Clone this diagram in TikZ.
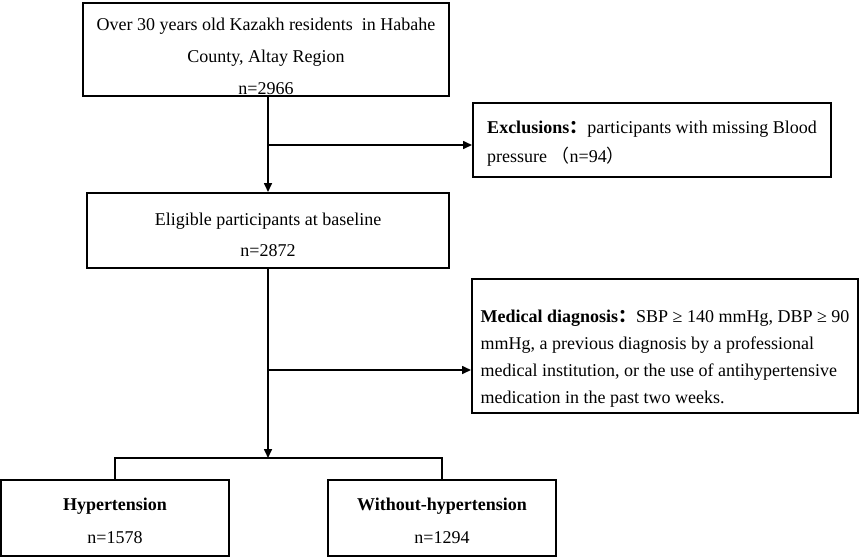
\documentclass[tikz,border=0pt]{standalone}
\usepackage{fontspec}
\setmainfont{Liberation Serif}
\newfontfamily\cjk{Noto Sans CJK SC}
\usetikzlibrary{arrows.meta}
\newcommand{\fw}[1]{{\cjk #1}}
\newcommand{\haut}[1]{\rule{0pt}{#1}}

\begin{document}
\begin{tikzpicture}[x=1pt, y=-1pt]
\tikzset{boite/.style={draw, line width=2pt, inner sep=0pt, align=center, font=\fontsize{18}{32}\selectfont}}
\tikzset{fleche/.style={line width=1.6pt, -{Triangle[length=9pt,width=8pt]}}}
\useasboundingbox (0,0) rectangle (861,557);
\node[boite, minimum width=366pt, minimum height=93pt] (Pop) at (266,49.5) {\haut{27pt}Over 30 years old Kazakh residents\ \ in Habahe\\County, Altay Region\\n=2966};
\node[boite, minimum width=362pt, minimum height=75pt, font=\fontsize{18}{31}\selectfont] (Elig) at (268,230.5) {\haut{22pt}Eligible participants at baseline\\n=2872};
\node[boite, align=left, minimum width=358pt, minimum height=74pt, font=\fontsize{18}{29}\selectfont] (Excl) at (652,140) {\haut{19pt}\textbf{Exclusions\fw{：}}participants with missing Blood\\pressure \fw{（}n=94\fw{）}};
\node[boite, align=left, minimum width=386pt, minimum height=134pt, font=\fontsize{18}{27}\selectfont] (Diag) at (665,346) {\haut{37pt}\textbf{Medical diagnosis\fw{：}}SBP ≥ 140 mmHg, DBP ≥ 90\\mmHg, a previous diagnosis by a professional\\medical institution, or the use of antihypertensive\\medication in the past two weeks.};
\node[boite, minimum width=228pt, minimum height=76pt, font=\fontsize{18}{33}\selectfont] (HT) at (115,518) {\haut{19pt}\textbf{Hypertension}\\n=1578};
\node[boite, minimum width=228pt, minimum height=76pt, font=\fontsize{18}{33}\selectfont] (NoHT) at (442,518) {\haut{19pt}\textbf{Without-hypertension}\\n=1294};
\coordinate (B1) at (268,145);
\coordinate (B2) at (268,370);
\coordinate (S) at (268,458);
\draw[fleche] (Pop.south -| Elig.north) -- (Elig.north);
\draw[fleche] (B1) -- (B1 -| Excl.west);
\draw[fleche] (Elig.south) -- (S);
\draw[fleche] (B2) -- (B2 -| Diag.west);
\draw[line width=1.6pt] (HT.north) |- (S) -| (NoHT.north);
\end{tikzpicture}
\end{document}
